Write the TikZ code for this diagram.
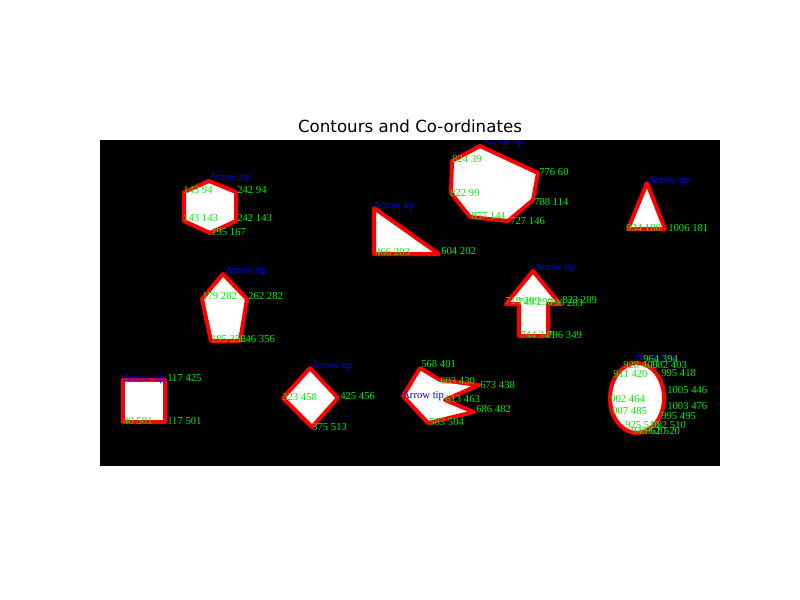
\documentclass[tikz,border=0pt]{standalone}
\usepackage{fontspec}
\setmainfont{Liberation Serif}
\newfontfamily\titlefont{DejaVu Sans}
\definecolor{lime}{RGB}{0,240,0}
\definecolor{pblue}{RGB}{0,0,255}
\definecolor{pred}{RGB}{255,0,0}
\tikzset{
  shp/.style={draw=pred, line width=3pt, fill=white, line join=round},
  lbl/.style={text=lime, font=\fontsize{8}{9}\selectfont, anchor=base west, inner sep=0pt},
  tiplbl/.style={text=pblue, font=\fontsize{8}{9}\selectfont, anchor=base west, inner sep=0pt},
}
\begin{document}
\begin{tikzpicture}[x=0.75pt,y=-0.75pt]
\useasboundingbox (0,0) rectangle (800,600);
\fill[white] (0,0) rectangle (800,600);
\node[font=\titlefont\fontsize{12.5}{14}\selectfont, anchor=base, inner sep=0pt] (title) at (410,132) {Contours and Co-ordinates};
\fill[black] (100,140) rectangle (720,466);
\begin{scope}
\clip (100,140) rectangle (720,466);
% hexagon
\draw[shp] (209,181) -- (184,192) -- (184,221) -- (210,233) -- (236,221) -- (236,192) -- cycle;
\node[tiplbl] (t1) at (209,180) {Arrow tip};
\node[lbl] (a1) at (183,193) {143 94};
\node[lbl] (a2) at (237,193) {242 94};
\node[lbl] (a3) at (183,221) {143 143};
\node[lbl] (a4) at (237,221) {242 143};
\node[lbl] (a5) at (211,235) {195 167};
% right triangle
\draw[shp] (374,208) -- (374,254) -- (439,254) -- cycle;
\node[tiplbl] (t2) at (373,208) {Arrow tip};
\node[lbl] (b1) at (375,255) {466 203};
\node[lbl] (b2) at (441,254) {604 202};
% heptagon
\draw[shp] (480,146) -- (452,161) -- (451,193) -- (470,217) -- (508,221) -- (533,200) -- (538,173) -- cycle;
\node[tiplbl] (t3) at (482,144) {Arrow tip};
\node[lbl] (c1) at (452,162) {824 39};
\node[lbl] (c2) at (539,175) {776 60};
\node[lbl] (c3) at (450,196) {822 99};
\node[lbl] (c4) at (534,205) {788 114};
\node[lbl] (c5) at (471,219) {857 141};
\node[lbl] (c6) at (510,224) {727 146};
% small triangle
\draw[shp] (647,183) -- (628,229) -- (665,229) -- cycle;
\node[tiplbl] (t4) at (648,183) {Arrow tip};
\node[lbl] (d1) at (626,231) {934 180};
\node[lbl] (d2) at (668,231) {1006 181};
% pentagon
\draw[shp] (223,274) -- (202,299) -- (211,341) -- (240,341) -- (247,299) -- cycle;
\node[tiplbl] (t5) at (225,273) {Arrow tip};
\node[lbl] (e1) at (202,299) {179 282};
\node[lbl] (e2) at (248,299) {262 282};
\node[lbl] (e3) at (211,342) {195 356};
\node[lbl] (e4) at (240,342) {246 356};
% up arrow
\draw[shp] (533,271) -- (506,304) -- (519,304) -- (519,336) -- (548,336) -- (548,304) -- (560,304) -- cycle;
\node[tiplbl] (t6) at (534,270) {Arrow tip};
\node[lbl] (f1) at (505,304) {719 289};
\node[lbl] (f2) at (518,305) {749 290};
\node[lbl] (f3) at (548,306) {796 283};
\node[lbl] (f4) at (562,303) {823 289};
\node[lbl] (f5) at (520,338) {744 349};
\node[lbl] (f6) at (547,338) {796 349};
% square
\draw[shp] (123,380) rectangle (165,422);
\node[tiplbl] (t7) at (123,381) {Arrow tip};
\node[lbl] (g1) at (167,381) {117 425};
\node[lbl] (g2) at (123,424) {40 501};
\node[lbl] (g3) at (167,424) {117 501};
% diamond
\draw[shp] (310,368) -- (283,398) -- (312,427) -- (338,398) -- cycle;
\node[tiplbl] (t8) at (311,368) {Arrow tip};
\node[lbl] (h1) at (282,400) {323 458};
\node[lbl] (h2) at (340,399) {425 456};
\node[lbl] (h3) at (312,430) {375 513};
% concave shape
\draw[shp] (420,368) -- (403,396) -- (428,423) -- (474,412) -- (445,400) -- (479,385) -- (440,380) -- cycle;
\node[lbl] (i1) at (421,367) {568 401};
\node[lbl] (i2) at (440,384) {603 430};
\node[lbl] (i3) at (480,388) {673 438};
\node[tiplbl] (t9) at (402,398) {Arrow tip};
\node[lbl] (i4) at (445,402) {613 463};
\node[lbl] (i5) at (476,412) {686 482};
\node[lbl] (i6) at (429,425) {583 504};
% ellipse
\draw[shp] (637,398) ellipse [x radius=27, y radius=35];
\node[tiplbl] (t10) at (635,360) {Arrow tip};
\node[lbl] (j1) at (643,362) {964 394};
\node[lbl] (j2) at (623,368) {928 400};
\node[lbl] (j3) at (652,368) {982 403};
\node[lbl] (j4) at (613,377) {911 420};
\node[lbl] (j5) at (661,376) {995 418};
\node[lbl] (j6) at (667,393) {1005 446};
\node[lbl] (j7) at (610,402) {902 464};
\node[lbl] (j8) at (667,409) {1003 476};
\node[lbl] (j9) at (612,414) {907 485};
\node[lbl] (j10) at (661,419) {995 495};
\node[lbl] (j11) at (625,428) {925 510};
\node[lbl] (j12) at (651,428) {982 510};
\node[lbl] (j13) at (631,434) {948 520};
\node[lbl] (j14) at (645,434) {961 520};
\end{scope}
\end{tikzpicture}
\end{document}
